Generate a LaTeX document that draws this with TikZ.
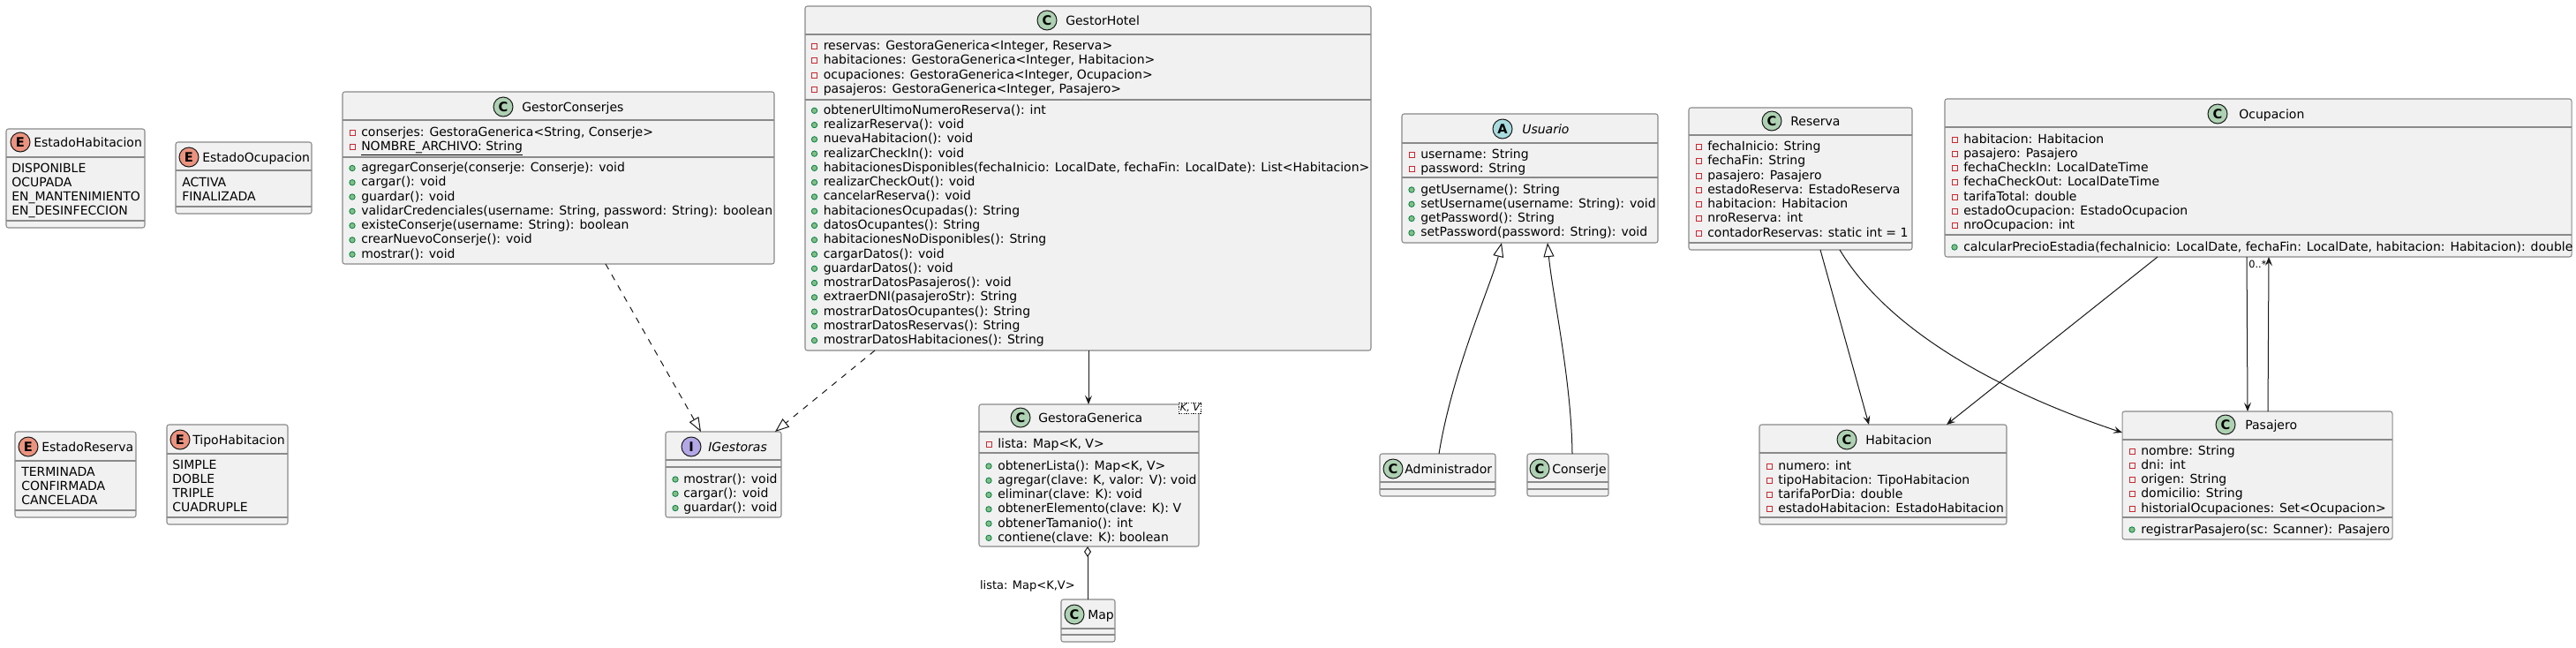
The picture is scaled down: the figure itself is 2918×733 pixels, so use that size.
\documentclass[tikz,border=0pt]{standalone}
\usepackage{fontspec}
\setmainfont{DejaVu Sans}
\usetikzlibrary{fit,calc,arrows.meta}
\definecolor{boxfill}{HTML}{F1F1F1}
\definecolor{boxline}{HTML}{8A8A8A}
\definecolor{ink}{HTML}{181818}
\definecolor{cfill}{HTML}{ADD1B2}
\definecolor{efill}{HTML}{EB937F}
\definecolor{afill}{HTML}{A9DCDF}
\definecolor{ifill}{HTML}{B4A7E5}
\definecolor{privred}{HTML}{C82930}
\definecolor{pubgreen}{HTML}{038048}
\definecolor{publight}{HTML}{84BE84}
\tikzset{
 umlbox/.style={draw=boxline, fill=boxfill, line width=0.8pt, rounded corners=1.9pt, inner sep=0pt, outer sep=0pt},
 sepline/.style={draw=boxline, line width=0.8pt},
 txt/.style={anchor=base west, inner sep=0pt, font=\fontsize{10.5pt}{12pt}\selectfont},
 letter/.style={circle, draw=ink, line width=0.75pt, minimum size=16.5pt, inner sep=0pt, font=\fontsize{11pt}{11pt}\selectfont\bfseries},
 vp/.style={rectangle, draw=privred, line width=0.75pt, minimum size=4.5pt, inner sep=0pt},
 vg/.style={circle, draw=pubgreen, fill=publight, line width=0.6pt, minimum size=4.8pt, inner sep=0pt},
 conn/.style={draw=ink, line width=0.75pt},
 dep/.style={conn, dash pattern=on 5.25pt off 5.25pt},
 arr/.style={-{Stealth[length=7.5pt, width=6pt, inset=3pt]}},
 inh/.style={-{Triangle[open, length=12pt, width=9pt, fill=white]}},
 agg/.style={{Diamond[open, length=9pt, width=6pt, fill=white]}-},
 tplbox/.style={draw=ink, dash pattern=on 1pt off 1pt, line width=0.5pt, fill=white, inner sep=1pt, font=\fontsize{8.5pt}{9pt}\selectfont\itshape},
 lbl/.style={inner sep=0pt, font=\fontsize{9.75pt}{10pt}\selectfont},
}
\newcommand\umlbox[5]{\node[umlbox, fit={(#2,#3) (#4,#5)}] (#1) {};}
\newcommand\hsep[3]{\draw[sepline] (#2,#1) -- (#3,#1);}
\newcommand\head[7]{%
 \node[letter, fill=#5] (#1-icon) at (#2,#4) {#6};
 \node[txt] (#1-title) at (#3,#4+5) {#7};}
\newcommand\members[5]{%
 \foreach [count=\i] \v/\t in {#5} {
   \node[\v] (#1-v\i) at (#2, {#4+1+(\i-1)*16.27}) {};
   \node[txt] (#1-t\i) at (#3, {#4+5+(\i-1)*16.27}) {\t};
 }}
\newcommand\plainmembers[4]{%
 \foreach [count=\i] \t in {#4} {
   \node[txt] (#1-t\i) at (#2, {#3+5+(\i-1)*16.27}) {\t};
 }}
\begin{document}
\begin{tikzpicture}[x=0.75pt,y=-0.75pt]
\fill[white] (0,0) rectangle (2918,733);
\useasboundingbox (0,0) rectangle (2918,733);

% ---------- enums ----------
\umlbox{EH}{7}{146}{164}{258}
\hsep{178}{7}{164}\hsep{250}{7}{164}
\head{EH}{23}{38}{161}{efill}{E}{EstadoHabitacion}
\plainmembers{EH}{13}{190}{DISPONIBLE,OCUPADA,EN\_MANTENIMIENTO,EN\_DESINFECCION}

\umlbox{EO}{199}{161}{353}{242}
\hsep{193}{199}{353}\hsep{234}{199}{353}
\head{EO}{214}{229}{178}{efill}{E}{EstadoOcupacion}
\plainmembers{EO}{206}{206}{ACTIVA,FINALIZADA}

\umlbox{ER}{17}{489}{154}{586}
\hsep{522}{17}{154}\hsep{578}{17}{154}
\head{ER}{32}{47}{506}{efill}{E}{EstadoReserva}
\plainmembers{ER}{24}{534}{TERMINADA,CONFIRMADA,CANCELADA}

\umlbox{TH}{189}{481}{326}{594}
\hsep{514}{189}{326}\hsep{586}{189}{326}
\head{TH}{204}{218}{498}{efill}{E}{TipoHabitacion}
\plainmembers{TH}{195}{526}{SIMPLE,DOBLE,TRIPLE,CUADRUPLE}

% ---------- GestorConserjes ----------
\umlbox{GC}{388}{104}{877}{299}
\hsep{136}{388}{877}\hsep{178}{388}{877}
\head{GC}{570}{591}{121}{cfill}{C}{GestorConserjes}
\members{GC-a}{399}{409}{149}{vp/{conserjes: GestoraGenerica<String, Conserje>},vp/{\underline{NOMBRE\_ARCHIVO: String}}}
\members{GC-m}{399}{409}{189.5}{vg/{agregarConserje(conserje: Conserje): void},vg/{cargar(): void},vg/{guardar(): void},vg/{validarCredenciales(username: String, password: String): boolean},vg/{existeConserje(username: String): boolean},vg/{crearNuevoConserje(): void},vg/{mostrar(): void}}

% ---------- GestorHotel ----------
\umlbox{GH}{912}{7}{1553}{397}
\hsep{39}{912}{1553}\hsep{113}{912}{1553}
\head{GH}{1186}{1207}{23}{cfill}{C}{GestorHotel}
\members{GH-a}{922.5}{932.5}{51.7}{vp/{reservas: GestoraGenerica<Integer, Reserva>},vp/{habitaciones: GestoraGenerica<Integer, Habitacion>},vp/{ocupaciones: GestoraGenerica<Integer, Ocupacion>},vp/{pasajeros: GestoraGenerica<Integer, Pasajero>}}
\members{GH-m}{922.5}{932.5}{124.3}{vg/{obtenerUltimoNumeroReserva(): int},vg/{realizarReserva(): void},vg/{nuevaHabitacion(): void},vg/{realizarCheckIn(): void},vg/{habitacionesDisponibles(fechaInicio: LocalDate, fechaFin: LocalDate): List<Habitacion>},vg/{realizarCheckOut(): void},vg/{cancelarReserva(): void},vg/{habitacionesOcupadas(): String},vg/{datosOcupantes(): String},vg/{habitacionesNoDisponibles(): String},vg/{cargarDatos(): void},vg/{guardarDatos(): void},vg/{mostrarDatosPasajeros(): void},vg/{extraerDNI(pasajeroStr): String},vg/{mostrarDatosOcupantes(): String},vg/{mostrarDatosReservas(): String},vg/{mostrarDatosHabitaciones(): String}}

% ---------- IGestoras ----------
\umlbox{IG}{754}{489}{885}{586}
\hsep{521}{754}{885}\hsep{529}{754}{885}
\head{IG}{783}{802}{506}{ifill}{I}{\itshape IGestoras}
\members{IG-m}{765}{774}{542}{vg/{mostrar(): void},vg/{cargar(): void},vg/{guardar(): void}}

% ---------- GestoraGenerica ----------
\umlbox{GG}{1109}{458}{1358}{619}
\hsep{489}{1109}{1358}\hsep{513}{1109}{1358}
\head{GG}{1156}{1176}{473}{cfill}{C}{GestoraGenerica}
\node[tplbox] (GG-tpl) at (1348,462) {K, V};
\members{GG-a}{1120}{1130}{502}{vp/{lista: Map<K, V>}}
\members{GG-m}{1120}{1130}{527}{vg/{obtenerLista(): Map<K, V>},vg/{agregar(clave: K, valor: V): void},vg/{eliminar(clave: K): void},vg/{obtenerElemento(clave: K): V},vg/{obtenerTamanio(): int},vg/{contiene(clave: K): boolean}}

% ---------- Map ----------
\umlbox{MP}{1202}{679}{1263}{727}
\hsep{712}{1202}{1263}\hsep{719}{1202}{1263}
\head{MP}{1217}{1232}{696}{cfill}{C}{Map}

% ---------- Usuario, Administrador, Conserje ----------
\umlbox{US}{1588}{129}{1878}{275}
\hsep{162}{1588}{1878}\hsep{201}{1588}{1878}
\head{US}{1702}{1724}{146}{afill}{A}{\itshape Usuario}
\members{US-a}{1599}{1609}{174}{vp/{username: String},vp/{password: String}}
\members{US-m}{1599}{1609}{214}{vg/{getUsername(): String},vg/{setUsername(username: String): void},vg/{getPassword(): String},vg/{setPassword(password: String): void}}

\umlbox{AD}{1563}{514}{1694}{562}
\hsep{546}{1563}{1694}\hsep{554}{1563}{1694}
\head{AD}{1578}{1591}{531}{cfill}{C}{Administrador}

\umlbox{CO}{1730}{514}{1822}{562}
\hsep{546}{1730}{1822}\hsep{554}{1730}{1822}
\head{CO}{1744}{1758}{531}{cfill}{C}{Conserje}

% ---------- Reserva ----------
\umlbox{RS}{1913}{122}{2166}{283}
\hsep{153}{1913}{2166}\hsep{275}{1913}{2166}
\head{RS}{2007}{2028}{137}{cfill}{C}{Reserva}
\members{RS-a}{1924}{1934}{165.5}{vp/{fechaInicio: String},vp/{fechaFin: String},vp/{pasajero: Pasajero},vp/{estadoReserva: EstadoReserva},vp/{habitacion: Habitacion},vp/{nroReserva: int},vp/{contadorReservas: static int = 1}}

% ---------- Ocupacion ----------
\umlbox{OC}{2203}{112}{2913}{291}
\hsep{144}{2203}{2913}\hsep{266}{2203}{2913}
\head{OC}{2512}{2536}{129}{cfill}{C}{Ocupacion}
\members{OC-a}{2214}{2224}{157}{vp/{habitacion: Habitacion},vp/{pasajero: Pasajero},vp/{fechaCheckIn: LocalDateTime},vp/{fechaCheckOut: LocalDateTime},vp/{tarifaTotal: double},vp/{estadoOcupacion: EstadoOcupacion},vp/{nroOcupacion: int}}
\members{OC-m}{2214}{2224}{279}{vg/{calcularPrecioEstadia(fechaInicio: LocalDate, fechaFin: LocalDate, habitacion: Habitacion): double}}

% ---------- Habitacion ----------
\umlbox{HB}{1993}{481}{2273}{594}
\hsep{513}{1993}{2273}\hsep{586}{1993}{2273}
\head{HB}{2092}{2113}{498}{cfill}{C}{Habitacion}
\members{HB-a}{2004}{2014}{527}{vp/{numero: int},vp/{tipoHabitacion: TipoHabitacion},vp/{tarifaPorDia: double},vp/{estadoHabitacion: EstadoHabitacion}}

% ---------- Pasajero ----------
\umlbox{PJ}{2404}{466}{2710}{611}
\hsep{498}{2404}{2710}\hsep{586}{2404}{2710}
\head{PJ}{2521}{2543}{481}{cfill}{C}{Pasajero}
\members{PJ-a}{2415}{2425}{510}{vp/{nombre: String},vp/{dni: int},vp/{origen: String},vp/{domicilio: String},vp/{historialOcupaciones: Set<Ocupacion>}}
\members{PJ-m}{2415}{2425}{599}{vg/{registrarPasajero(sc: Scanner): Pasajero}}

% ---------- connectors ----------
\draw[dep, inh] ($(GC.south west)+(298,0)$) -- ($(IG.north west)+(40,0)$);
\draw[dep, inh] ($(GH.south west)+(79,0)$) -- ($(IG.north east)+(-7,0)$);
\draw[conn, arr] ($(GH.south west)+(321,0)$) -- ($(GG.north west)+(124,0)$);
\draw[conn, agg] ($(GG.south west)+(123,0)$) -- ($(MP.north west)+(30,0)$);
\node[lbl, anchor=base east] (lbl-lista) at (1218,667) {lista: Map<K,V>};
\draw[conn, inh] ($(AD.north west)+(67,0)$) .. controls (1645,420) and (1690,320) .. ($(US.south west)+(113,0)$);
\draw[conn, inh] ($(CO.north west)+(51,0)$) .. controls (1780,430) and (1758,330) .. ($(US.south west)+(165,0)$);
\draw[conn, arr] ($(RS.south west)+(149,0)$) -- ($(HB.north west)+(124,0)$);
\draw[conn, arr] ($(RS.south west)+(171,0)$) .. controls (2144,383) and (2284,450) .. ($(PJ.north west)+(0,24)$);
\draw[conn, arr] ($(OC.south west)+(241,0)$) -- ($(HB.north west)+(212,0)$);
\draw[conn, arr] ($(OC.south west)+(342,0)$) -- ($(PJ.north west)+(142,0)$);
\draw[conn, arr] ($(PJ.north west)+(165,0)$) -- ($(OC.south west)+(367,0)$);
\node[lbl, anchor=base west, font=\fontsize{8.5pt}{9pt}\selectfont] (lbl-mult) at (2547,303) {0..*};
\end{tikzpicture}
\end{document}
